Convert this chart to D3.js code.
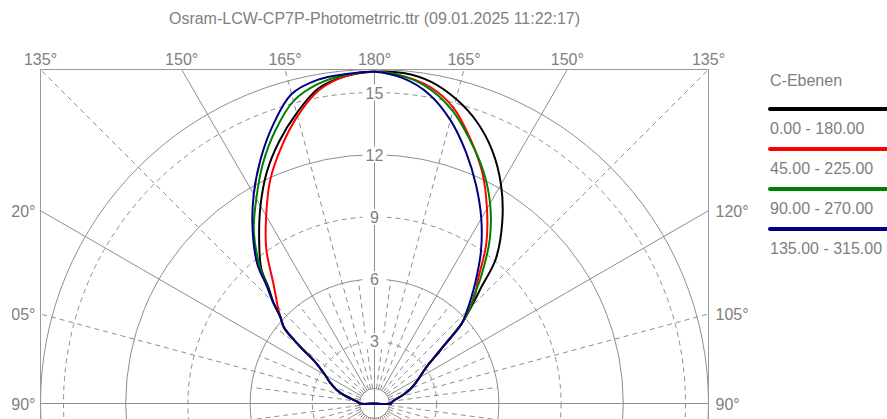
<!DOCTYPE html>
<html lang="de">
<head>
<meta charset="UTF-8">
<script src="https://d3js.org/d3.v7.min.js"></script>
<title>Osram-LCW-CP7P-Photometrric</title>
<style>
  body { margin: 0; background: #fff; }
  text { font-family: 'Liberation Sans', Arial, sans-serif; font-size: 16px; fill: #808080; }
  .grid { fill: none; stroke: #8e8e8e; stroke-width: 1px; }
  .dash { stroke-dasharray: 5,4; }
  .curve { fill: none; stroke-width: 2px; stroke-linejoin: round; }
</style>
</head>
<body>
<svg id="chart" width="887" height="419"></svg>
<script>
const title = "Osram-LCW-CP7P-Photometrric.ttr (09.01.2025 11:22:17)";
const legendTitle = "C-Ebenen";

// gamma angles (0 = down, 180 = up), values in cd/klm
const gamma = [90, 95, 100, 105, 110, 115, 120, 125, 127.5, 130, 132.5, 135, 137.5, 140, 145, 150, 155, 160, 165, 170, 175, 180];

// right half of the diagram
const c0   = [0.8, 0.85, 1.0, 1.3, 1.7, 2.1, 2.5, 3.05, 3.6, 4.45, 5.7, 6.6, 7.65, 9.1, 10.75, 12.2, 13.45, 14.45, 15.2, 15.75, 16.0, 16.0];
const c45  = [0.8, 0.85, 1.0, 1.3, 1.7, 2.1, 2.5, 3.05, 3.6, 4.45, 5.7, 6.5, 7.2, 7.75, 9.4, 10.85, 12.3, 13.55, 14.75, 15.5, 15.85, 16.0];
const c90  = [0.8, 0.85, 1.0, 1.3, 1.7, 2.1, 2.5, 3.05, 3.6, 4.45, 5.7, 6.5, 7.15, 8.0, 9.7, 11.15, 12.4, 13.5, 14.6, 15.4, 15.85, 16.0];
const c135 = [0.8, 0.85, 1.0, 1.3, 1.7, 2.1, 2.5, 3.05, 3.6, 4.45, 5.7, 6.3, 6.9, 7.55, 8.95, 10.3, 11.6, 12.9, 14.15, 15.15, 15.75, 16.0];
// left half of the diagram
const c180 = [0.72, 0.8, 1.05, 1.5, 1.95, 2.35, 2.75, 3.5, 4.55, 5.7, 6.15, 6.9, 7.55, 8.5, 9.7, 11.0, 12.3, 13.45, 14.5, 15.45, 15.85, 16.0];
const c225 = [0.72, 0.8, 1.05, 1.5, 1.95, 2.35, 2.75, 3.5, 4.55, 5.7, 6.15, 6.6, 7.05, 7.6, 9.1, 10.45, 11.9, 13.15, 14.35, 15.35, 15.85, 16.0];
const c270 = [0.72, 0.8, 1.05, 1.5, 1.95, 2.35, 2.75, 3.5, 4.55, 5.7, 6.15, 6.95, 7.65, 8.6, 10.15, 11.4, 12.75, 14.0, 15.1, 15.65, 15.9, 16.0];
const c315 = [0.72, 0.8, 1.05, 1.5, 1.95, 2.35, 2.75, 3.5, 4.55, 5.7, 6.15, 6.9, 7.7, 8.8, 10.25, 11.65, 13.0, 14.3, 15.45, 15.85, 15.95, 16.0];

const planeLabels = ["0.00 - 180.00", "45.00 - 225.00", "90.00 - 270.00", "135.00 - 315.00"];
const planeColors = ["#000000", "#ff0000", "#008000", "#000080"];
const planeRight = [c0, c45, c90, c135];
const planeLeft = [c180, c225, c270, c315];

const ringValues = [3, 6, 9, 12, 15];
const topAngles = [135, 150, 165, 180, 165, 150, 135];
const sideAngles = [120, 105, 90];

const svg = d3.select("#chart");
const cx = 374.5, cy = 403.5, R = 334;
const hub = 15;
const rScale = d3.scaleLinear().domain([0, 15]).range([0, 311]);
const rad = d => d * Math.PI / 180;

svg.append("text")
  .attr("x", cx).attr("y", 24)
  .attr("text-anchor", "middle")
  .text(title);

svg.append("clipPath").attr("id", "box")
  .append("rect")
  .attr("x", cx - R).attr("y", cy - R)
  .attr("width", 2 * R).attr("height", 2 * R);
svg.append("clipPath").attr("id", "leftclip")
  .append("rect")
  .attr("x", 12).attr("y", 0).attr("width", 40).attr("height", 419);

const plot = svg.append("g").attr("clip-path", "url(#box)")
  .append("g").attr("transform", "translate(" + cx + "," + cy + ")");

// rings
ringValues.forEach(v => {
  plot.append("circle")
    .attr("class", v % 6 === 0 ? "grid" : "grid dash")
    .attr("r", rScale(v));
});
plot.append("circle").attr("class", "grid").attr("r", hub);
plot.append("circle").attr("class", "grid").attr("r", R);

// spokes: every 15 deg to the frame, extra ones near the centre
for (let a = 0; a < 360; a += 7.5) {
  const s = Math.sin(rad(a)), c = Math.cos(rad(a));
  const main = a % 15 === 0;
  const r0 = a % 90 === 0 ? 0 : hub;
  const r1 = main ? R / Math.max(Math.abs(s), Math.abs(c)) : rScale(6);
  plot.append("line")
    .attr("class", a % 30 === 0 ? "grid" : "grid dash")
    .attr("x1", r0 * s).attr("y1", -r0 * c)
    .attr("x2", r1 * s).attr("y2", -r1 * c);
}

// frame
svg.append("rect")
  .attr("class", "grid")
  .attr("x", cx - R).attr("y", cy - R)
  .attr("width", 2 * R).attr("height", 2 * R)
  .style("stroke", "#999");

// curves
const line = d3.lineRadial()
  .angle(d => d[0])
  .radius(d => rScale(d[1]))
  .curve(d3.curveCatmullRom.alpha(0.5));

planeColors.forEach((col, i) => {
  const pts = [[0, 0]];
  gamma.forEach((gm, j) => pts.push([-rad(180 - gm), planeLeft[i][j]]));
  for (let j = gamma.length - 2; j >= 0; j--) pts.push([rad(180 - gamma[j]), planeRight[i][j]]);
  pts.push([0, 0]);
  plot.append("path")
    .attr("class", "curve")
    .attr("stroke", col)
    .attr("d", line(pts));
});

// ring labels
ringValues.forEach(v => {
  const y = cy - rScale(v);
  svg.append("rect")
    .attr("x", cx - 12).attr("y", y - 8)
    .attr("width", 24).attr("height", 16)
    .attr("fill", "#fff");
  svg.append("text")
    .attr("x", cx).attr("y", y + 6)
    .attr("text-anchor", "middle")
    .text(v);
});

// angle labels
topAngles.forEach((a, i) => {
  const th = (i < 3 ? -1 : 1) * (180 - a);
  svg.append("text")
    .attr("x", cx + R * Math.tan(rad(th)))
    .attr("y", 65)
    .attr("text-anchor", "middle")
    .text(a + "°");
});
sideAngles.forEach(a => {
  const y = cy - R / Math.tan(rad(180 - a));
  svg.append("text")
    .attr("x", cx + R + 7).attr("y", y + 6)
    .text(a + "°");
  svg.append("text")
    .attr("clip-path", "url(#leftclip)")
    .attr("x", cx - R - 5).attr("y", y + 6)
    .attr("text-anchor", "end")
    .text(a + "°");
});

// legend
const legend = svg.append("g").attr("transform", "translate(770,0)");
legend.append("text").attr("x", 0).attr("y", 86).text(legendTitle);
planeLabels.forEach((d, i) => {
  legend.append("line")
    .attr("x1", 0).attr("x2", 120)
    .attr("y1", 109 + 40 * i).attr("y2", 109 + 40 * i)
    .attr("stroke", planeColors[i])
    .attr("stroke-width", 4)
    .attr("stroke-linecap", "round");
  legend.append("text")
    .attr("x", 0).attr("y", 134 + 40 * i)
    .text(d);
});
</script>
</body>
</html>
